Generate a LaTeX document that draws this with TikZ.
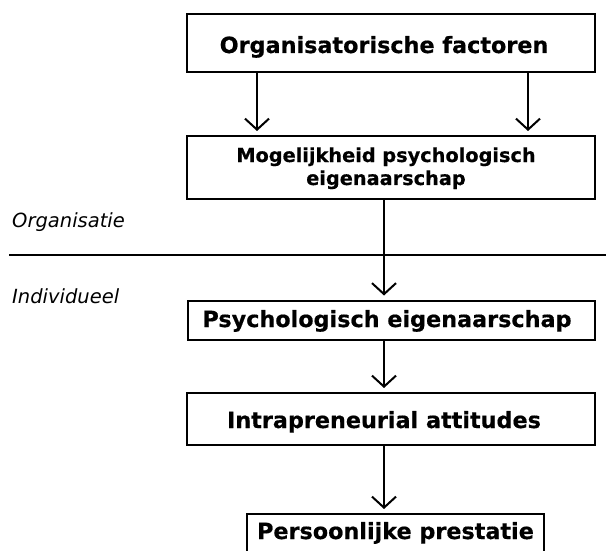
\documentclass[tikz,border=0pt]{standalone}
\usepackage{fontspec}
\setmainfont{DejaVu Sans}
\newfontfamily\heavyfont{DejaVu Sans Bold}[FakeBold=0.5]
\usetikzlibrary{arrows.meta}
\begin{document}
\begin{tikzpicture}[x=1pt,y=-1pt,
  box/.style={draw=black, line width=2pt, rectangle, inner sep=0pt},
  boxtext/.style={anchor=base, inner sep=0pt, font=\heavyfont\fontsize{22.3}{26}\selectfont},
  smalltext/.style={anchor=base, inner sep=0pt, font=\heavyfont\fontsize{19.3}{23}\selectfont},
  layer/.style={anchor=base west, inner sep=0pt, font=\itshape\fontsize{19.5}{23}\selectfont},
  flow/.style={line width=2pt, -{Straight Barb[length=11pt,width=24pt,line width=2pt]}, shorten >=4pt}]
\useasboundingbox (0,0) rectangle (606,551);

% columns used by the connectors
\coordinate (la) at (257,0);
\coordinate (ra) at (528,0);
\coordinate (spine) at (384,0);

% boxes
\node[box, minimum width=408pt, minimum height=58pt] (b1) at (391,43) {};
\node[box, minimum width=408pt, minimum height=63pt] (b2) at (391,167.5) {};
\node[box, minimum width=407pt, minimum height=39pt] (b3) at (391.5,320) {};
\node[box, minimum width=408pt, minimum height=52pt] (b4) at (391,419) {};
\node[box, minimum width=297pt, minimum height=39pt] (b5) at (395,533.5) {};

% box texts
\node[boxtext] (t1) at (384,53) {Organisatorische factoren};
\node[smalltext] (t2a) at (386,162) {Mogelijkheid psychologisch};
\node[smalltext] (t2b) at (386,185) {eigenaarschap};
\node[boxtext] (t3) at (387,327) {Psychologisch eigenaarschap};
\node[boxtext] (t4) at (384,428) {Intrapreneurial attitudes};
\node[boxtext] (t5) at (395.5,539) {Persoonlijke prestatie};

% level divider and labels
\coordinate (dl) at (9,255);
\coordinate (dr) at (606,255);
\draw[line width=2.5pt] (dl) -- (dr);
\node[layer] (org) at (12,227) {Organisatie};
\node[layer] (ind) at (12,303) {Individueel};

% connectors
\draw[flow] (b1.south -| la) -- (b2.north -| la);
\draw[flow] (b1.south -| ra) -- (b2.north -| ra);
\draw[flow] (b2.south -| spine) -- (b3.north -| spine);
\draw[flow] (b3.south -| spine) -- (b4.north -| spine);
\draw[flow] (b4.south -| spine) -- (b5.north -| spine);
\end{tikzpicture}
\end{document}
